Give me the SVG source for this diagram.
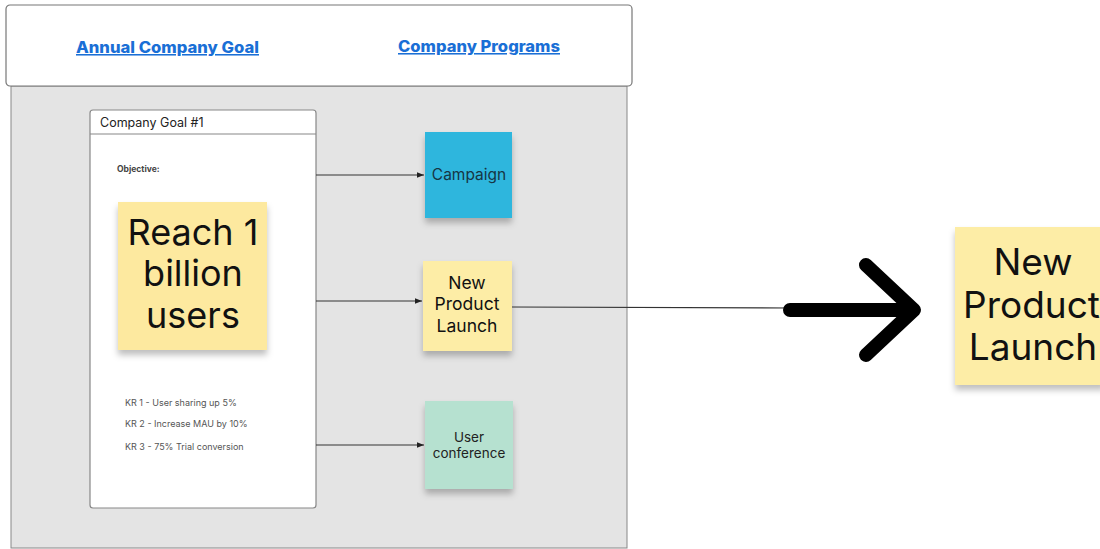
<svg xmlns="http://www.w3.org/2000/svg" width="1100" height="549" viewBox="0 0 1100 549">
<defs>
<filter id="sh" x="-20%" y="-20%" width="140%" height="150%">
<feDropShadow dx="0" dy="5" stdDeviation="3" flood-color="#000" flood-opacity="0.25"/>
</filter>
<marker id="ah" viewBox="0 0 10 10" refX="10" refY="5" markerWidth="7" markerHeight="7" orient="auto" markerUnits="userSpaceOnUse">
<path d="M0,1 L10,5 L0,9 z" fill="#222"/>
</marker>
</defs>
<style>
.f{font-family:Inter,"Liberation Sans",Arial,sans-serif}
.hdr{font-size:15.5px;font-weight:800;fill:#1a6fd6;text-decoration:underline}
.kr{font-size:9px;fill:#555}
.conn{stroke:#333;stroke-width:1.2;fill:none}
</style>
<rect x="11" y="86" width="616" height="462" fill="#e4e4e4" stroke="#888" stroke-width="1"/>
<g id="header">
<rect x="6" y="5" width="626" height="81" rx="4" fill="#fff" stroke="#777" stroke-width="1.2"/>
<text class="f hdr" x="76" y="53" textLength="183" lengthAdjust="spacingAndGlyphs">Annual Company Goal</text>
<text class="f hdr" x="398" y="52" textLength="162" lengthAdjust="spacingAndGlyphs">Company Programs</text>
</g>
<g id="goal-card">
<rect x="90" y="110" width="226" height="398" rx="3" fill="#fff" stroke="#888" stroke-width="1.2"/>
<line x1="90" y1="134" x2="316" y2="134" stroke="#888" stroke-width="1.2"/>
<text class="f" x="100" y="127" font-size="12.5" fill="#222">Company Goal #1</text>
<text class="f" x="117" y="172" font-size="8.5" font-weight="bold" fill="#444">Objective:</text>
<text class="f kr" x="125" y="406">KR 1 - User sharing up 5%</text>
<text class="f kr" x="125" y="427">KR 2 - Increase MAU by 10%</text>
<text class="f kr" x="125" y="450">KR 3 - 75% Trial conversion</text>
</g>
<g id="goal-sticky">
<rect x="118" y="202" width="149" height="148" fill="#fde99f" filter="url(#sh)"/>
<text class="f" font-size="36" fill="#111" text-anchor="middle"><tspan x="193" y="245">Reach 1</tspan><tspan x="193" y="286">billion</tspan><tspan x="193" y="328">users</tspan></text>
</g>
<g id="campaign">
<rect x="425" y="132" width="87" height="86" fill="#2db6dd" filter="url(#sh)"/>
<text class="f" x="469" y="180" font-size="15.5" fill="#163544" text-anchor="middle">Campaign</text>
</g>
<g id="launch">
<rect x="423" y="261" width="89" height="90" fill="#fdeda6" filter="url(#sh)"/>
<text class="f" font-size="17.5" fill="#111" text-anchor="middle"><tspan x="467" y="289">New</tspan><tspan x="467" y="310">Product</tspan><tspan x="467" y="332">Launch</tspan></text>
</g>
<g id="conference">
<rect x="425" y="401" width="88" height="88" fill="#b6e1d0" filter="url(#sh)"/>
<text class="f" font-size="13.5" fill="#222" text-anchor="middle"><tspan x="469" y="442">User</tspan><tspan x="469" y="458">conference</tspan></text>
</g>
<g id="big-launch">
<rect x="955" y="227" width="150" height="158" fill="#fdeda6" filter="url(#sh)"/>
<text class="f" font-size="37" fill="#111"><tspan x="1033" y="275" text-anchor="middle">New</tspan><tspan x="963" y="318">Product</tspan><tspan x="1033" y="360" text-anchor="middle">Launch</tspan></text>
</g>
<g id="connectors">
<line class="conn" x1="316" y1="175" x2="424" y2="175" marker-end="url(#ah)"/>
<line class="conn" x1="316" y1="301" x2="422" y2="301" marker-end="url(#ah)"/>
<line class="conn" x1="316" y1="445" x2="424" y2="445" marker-end="url(#ah)"/>
<line x1="512" y1="307" x2="790" y2="308" stroke="#333" stroke-width="1.2"/>
<path d="M790,310 L912,310 M866,265 L914,310 L866,355" fill="none" stroke="#000" stroke-width="14" stroke-linecap="round" stroke-linejoin="round"/>
</g>
</svg>
